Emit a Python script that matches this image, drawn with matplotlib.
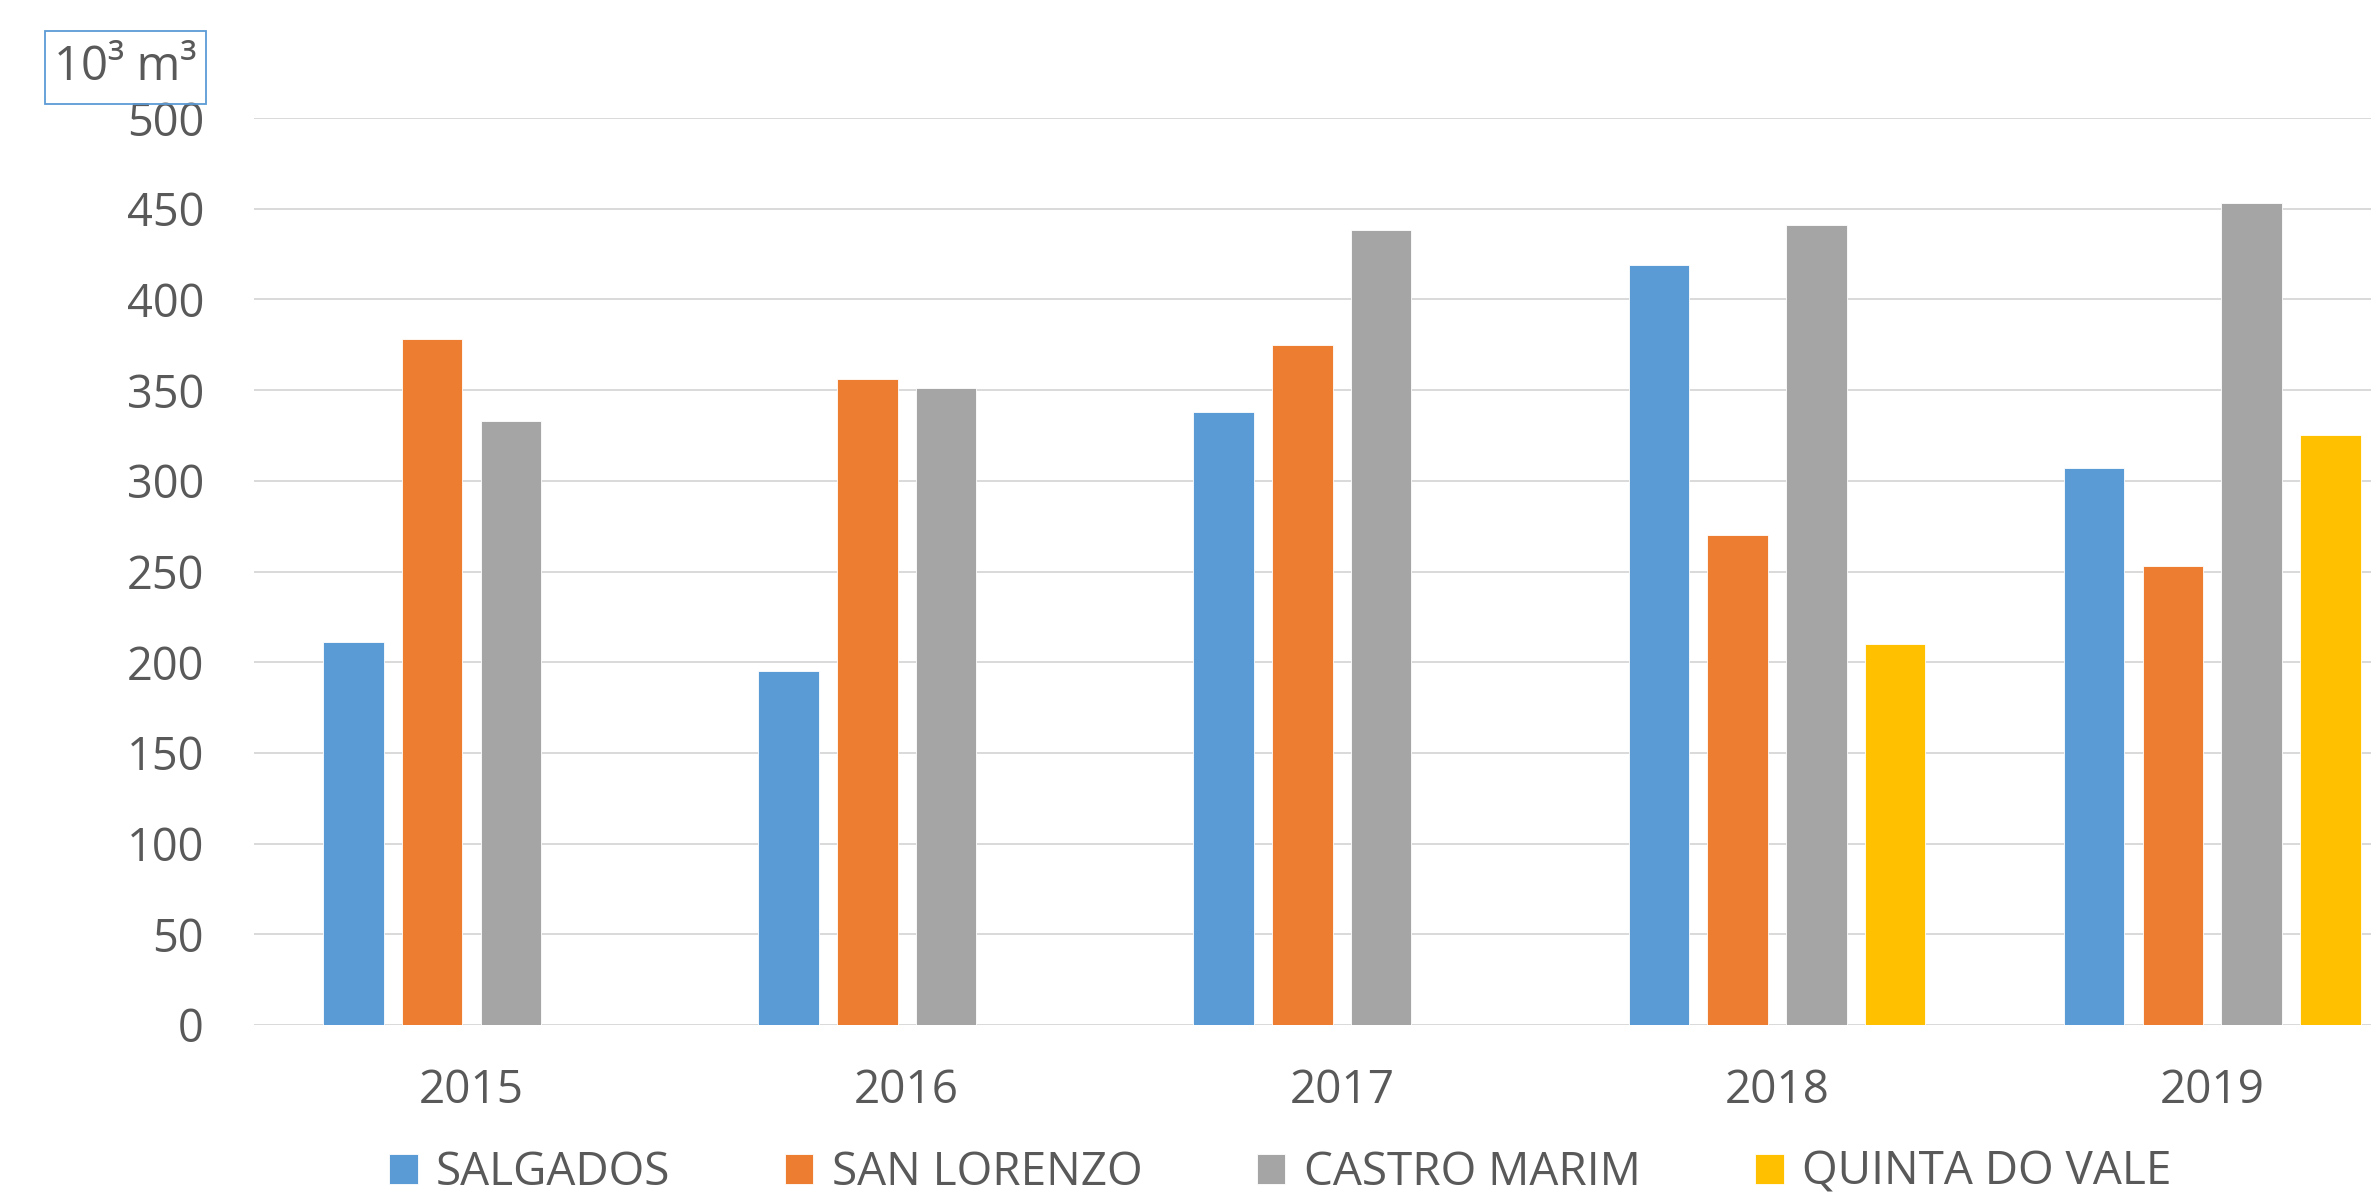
import matplotlib
matplotlib.use("Agg")
import matplotlib.pyplot as plt
from matplotlib.patches import Rectangle
import numpy as np

plt.rcParams['font.family'] = ['Open Sans', 'DejaVu Sans']

years = ['2015', '2016', '2017', '2018', '2019']
series_names = ['SALGADOS', 'SAN LORENZO', 'CASTRO MARIM', 'QUINTA DO VALE']
salgados = [211, 195, 338, 419, 307]
san_lorenzo = [378, 356, 375, 270, 253]
castro_marim = [333, 351, 438, 441, 453]
quinta_do_vale = [None, None, None, 210, 325]
colors = ['#5B9BD5', '#ED7D31', '#A5A5A5', '#FFC000']
yticks = [0, 50, 100, 150, 200, 250, 300, 350, 400, 450, 500]

W, H = 2371, 1197
fig = plt.figure(figsize=(W / 100, H / 100), dpi=100)
ax = fig.add_axes([254 / W, (H - 1025) / H, 1 - 254 / W, (1025 - 118) / H])

text_color = '#595959'
grid_color = '#D9D9D9'

x = np.arange(len(years))
pitch = 0.181
width = 0.139
all_series = [salgados, san_lorenzo, castro_marim, quinta_do_vale]
handles = []
for i, (name, vals, c) in enumerate(zip(series_names, all_series, colors)):
    xs = [xi + (i - 1.5) * pitch for xi, v in zip(x, vals) if v is not None]
    vs = [v for v in vals if v is not None]
    b = ax.bar(xs, vs, width=width, color=c, edgecolor='white', linewidth=0.6,
               label=name, zorder=3)
    handles.append(b)

ax.set_ylim(0, 500)
ax.set_xlim(-0.5, 4.365)
ax.set_yticks(yticks)
ax.set_yticklabels([str(t) for t in yticks])
ax.set_xticks(x)
ax.set_xticklabels(years)
ax.yaxis.grid(True, color=grid_color, linewidth=1.4, zorder=0)
ax.set_axisbelow(True)
for s in ax.spines.values():
    s.set_visible(False)
ax.tick_params(axis='y', length=0, pad=36, labelsize=32.5, labelcolor=text_color)
ax.tick_params(axis='x', length=0, pad=31, labelsize=33, labelcolor=text_color)

leg = fig.legend(handles=handles, labels=series_names, loc='center',
                 bbox_to_anchor=(0.540, 24 / H), ncol=4, frameon=False,
                 fontsize=33, handlelength=0.62, handleheight=0.62,
                 handletextpad=0.4, columnspacing=2.5, borderaxespad=0,
                 borderpad=0)
for t in leg.get_texts():
    t.set_color(text_color)

fig.patches.append(Rectangle((45 / W, (H - 104) / H), 161 / W, 73 / H,
                             transform=fig.transFigure, fill=False,
                             edgecolor='#5B9BD5', linewidth=1.3))
fig.text(125.5 / W, (H - 67.5) / H, '10³ m³', ha='center', va='center',
         fontsize=34, color=text_color)

fig.savefig('out.png', dpi=100)
